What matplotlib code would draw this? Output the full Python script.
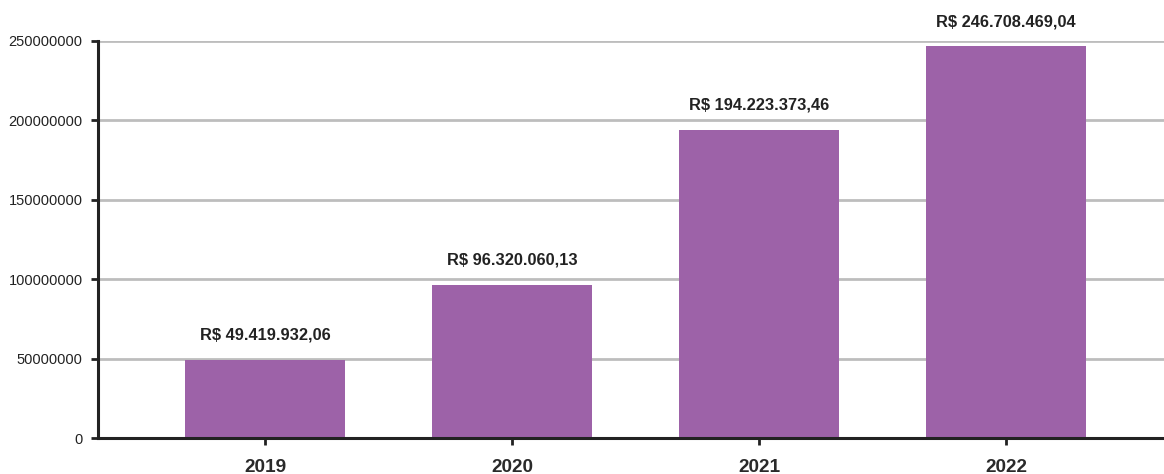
import matplotlib
matplotlib.use("Agg")
import matplotlib.pyplot as plt

years = ["2019", "2020", "2021", "2022"]
values = [49419932.06, 96320060.13, 194223373.46, 246708469.04]
labels = ["R$ 49.419.932,06", "R$ 96.320.060,13", "R$ 194.223.373,46", "R$ 246.708.469,04"]
yticks = [0, 50000000, 100000000, 150000000, 200000000, 250000000]

plt.rcParams['font.family'] = ['Liberation Sans', 'DejaVu Sans']

fig = plt.figure(figsize=(11.64, 4.74), dpi=100)
ax = fig.add_axes([98/1164, 36/474, 1 - 98/1164, (438-41)/474])

x = list(range(len(years)))
ax.bar(x, values, width=0.648, color='#9d62a8', zorder=3)
ax.set_xlim(-0.676, 3.64)
ax.set_ylim(0, 250000000)
ax.set_yticks(yticks)
ax.set_yticklabels([str(v) for v in yticks], fontsize=10.5, color='#222222')
ax.set_xticks(x)
ax.set_xticklabels(years, fontsize=13.7, fontweight='bold', color='#2a2a2a')

ax.grid(axis='y', color='#bdbdbd', linewidth=2, zorder=0)
ax.set_axisbelow(True)
for s in ['top', 'right']:
    ax.spines[s].set_visible(False)
ax.spines['left'].set_color('#222222')
ax.spines['left'].set_linewidth(2.2)
ax.spines['bottom'].set_color('#222222')
ax.spines['bottom'].set_linewidth(2.2)
ax.spines['bottom'].set_zorder(4)
ax.tick_params(axis='y', length=5, width=2, color='#222222', pad=6)
ax.tick_params(axis='x', direction='inout', length=10, width=2, color='#222222', pad=10)

for xi, v, lab in zip(x, values, labels):
    ax.annotate(lab, (xi, v), xytext=(0, 17.8), textcoords='offset points',
                ha='center', va='center', fontsize=11.8, fontweight='bold', color='#222222',
                annotation_clip=False)

fig.savefig('out.png', dpi=100)
